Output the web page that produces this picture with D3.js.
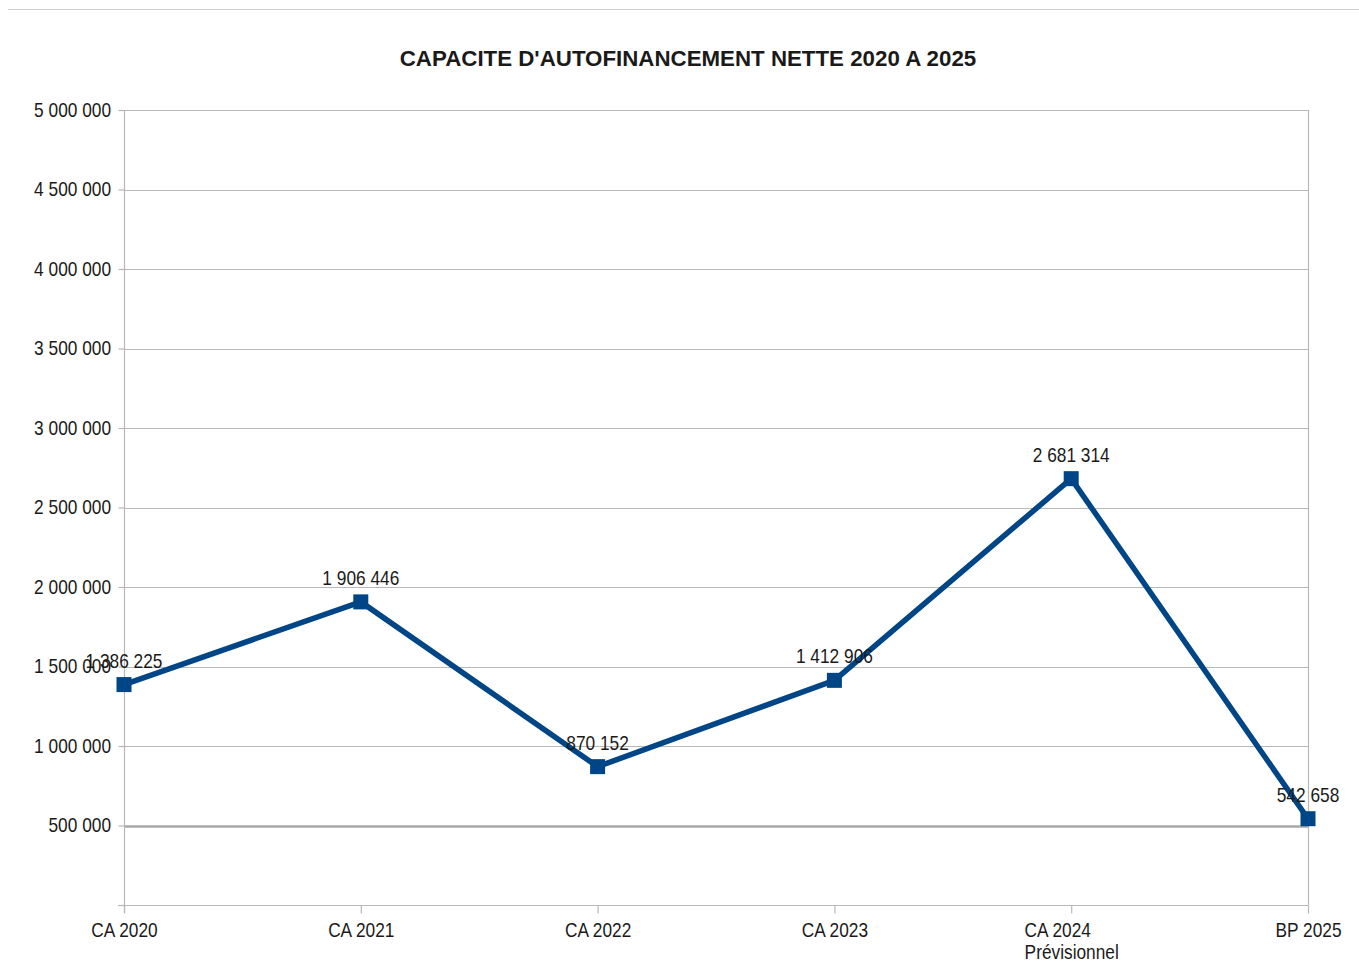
<!DOCTYPE html>
<html>
<head>
<meta charset="utf-8">
<script src="https://cdn.jsdelivr.net/npm/d3@7"></script>
<style>
  html, body { margin: 0; padding: 0; background: #fff; }
  svg { display: block; }
  text { font-family: "Liberation Sans", Arial, sans-serif; fill: #1a1a1a; }
</style>
</head>
<body>
<svg id="chart" width="1359" height="975"></svg>
<script>
// Capacité d'autofinancement nette, 2020 à 2025
const categories = ["CA 2020", "CA 2021", "CA 2022", "CA 2023", "CA 2024\nPrévisionnel", "BP 2025"];
const cafNette = [1386225, 1906446, 870152, 1412906, 2681314, 542658];
const yTickValues = [500000, 1000000, 1500000, 2000000, 2500000, 3000000, 3500000, 4000000, 4500000, 5000000];
const titleText = "CAPACITE D'AUTOFINANCEMENT NETTE 2020 A 2025";

const svg = d3.select("#chart");
const plotLeft = 124, plotRight = 1308, plotTop = 110, plotBottom = 905;
const narrow = 0.865;   // horizontal condensing of the label font
const fontSize = 20;

const fmt = v => d3.format(",")(v).replace(/,/g, " ");

const x = d3.scalePoint().domain(categories).range([plotLeft, plotRight]).padding(0);
const y = d3.scaleLinear().domain([0, 5000000]).range([plotBottom, plotTop]);

// top rule
svg.append("line").attr("x1", 8).attr("x2", 1359).attr("y1", 9.5).attr("y2", 9.5)
  .attr("stroke", "#d0d0d0").attr("stroke-width", 1);

// title
svg.append("text").attr("x", 688).attr("y", 66).attr("text-anchor", "middle")
  .attr("font-size", 22.3).attr("font-weight", "bold").text(titleText);

// horizontal gridlines
svg.append("g").selectAll("line").data(yTickValues).join("line")
  .attr("x1", plotLeft).attr("x2", plotRight)
  .attr("y1", d => Math.round(y(d)) + 0.5).attr("y2", d => Math.round(y(d)) + 0.5)
  .attr("stroke", d => d === 500000 ? "#a8a8a8" : "#b8b8b8")
  .attr("stroke-width", d => d === 500000 ? 2.5 : 1.2);

// right border
svg.append("line").attr("x1", plotRight + 0.5).attr("x2", plotRight + 0.5).attr("y1", plotTop).attr("y2", plotBottom)
  .attr("stroke", "#b8b8b8").attr("stroke-width", 1.2);

// y axis
const yAxis = d3.axisLeft(y).tickValues([0].concat(yTickValues)).tickSize(6).tickPadding(7)
  .tickFormat(d => d === 0 ? "" : fmt(d));
const gy = svg.append("g").attr("transform", `translate(${plotLeft + 0.5},0)`).call(yAxis);
gy.select(".domain").attr("stroke", "#b8b8b8").attr("stroke-width", 1.2).attr("d", `M0,${plotTop}V${plotBottom + 8}`);
gy.selectAll(".tick line").attr("stroke", "#b8b8b8").attr("stroke-width", 1.2);
gy.selectAll(".tick text").attr("font-size", fontSize).attr("fill", "#1a1a1a")
  .attr("font-family", "'Liberation Sans', Arial, sans-serif")
  .attr("x", -13.5 / narrow).attr("transform", `scale(${narrow},1)`);

// x axis; multi-line category names form a left-aligned block centred on the tick
const xAxis = d3.axisBottom(x).tickSize(8).tickPadding(9).tickFormat("");
const gx = svg.append("g").attr("transform", `translate(0,${plotBottom + 0.5})`).call(xAxis);
gx.select(".domain").attr("stroke", "#b8b8b8").attr("stroke-width", 1.2).attr("d", `M${plotLeft - 6},0H${plotRight}`);
gx.selectAll(".tick line").attr("stroke", "#b8b8b8").attr("stroke-width", 1.2);
gx.selectAll(".tick").each(function(d) {
  const lines = d.split("\n");
  const t = d3.select(this).append("text").attr("font-size", fontSize)
    .attr("fill", "#1a1a1a").attr("y", 32).attr("transform", `scale(${narrow},1)`);
  const spans = lines.map((l, i) => t.append("tspan").attr("dy", i === 0 ? 0 : 22).text(l));
  if (lines.length === 1) {
    t.attr("text-anchor", "middle");
    spans[0].attr("x", 0);
  } else {
    const w = d3.max(spans, s => s.node().getComputedTextLength());
    t.attr("text-anchor", "start");
    spans.forEach(s => s.attr("x", -w / 2));
  }
});

// line
const pts = categories.map((c, i) => ({ c, v: cafNette[i] }));
svg.append("path").datum(pts)
  .attr("fill", "none").attr("stroke", "#004586").attr("stroke-width", 5.5).attr("stroke-linejoin", "round")
  .attr("d", d3.line().x(d => x(d.c)).y(d => y(d.v)));

// square markers
svg.append("g").selectAll("rect").data(pts).join("rect")
  .attr("x", d => x(d.c) - 7.5).attr("y", d => y(d.v) - 7.5)
  .attr("width", 15).attr("height", 15).attr("fill", "#004586");

// value labels
svg.append("g").selectAll("text").data(pts).join("text")
  .attr("transform", d => `translate(${x(d.c)},${y(d.v) - 17}) scale(${narrow},1)`)
  .attr("text-anchor", "middle").attr("font-size", fontSize).text(d => fmt(d.v));
</script>
</body>
</html>
